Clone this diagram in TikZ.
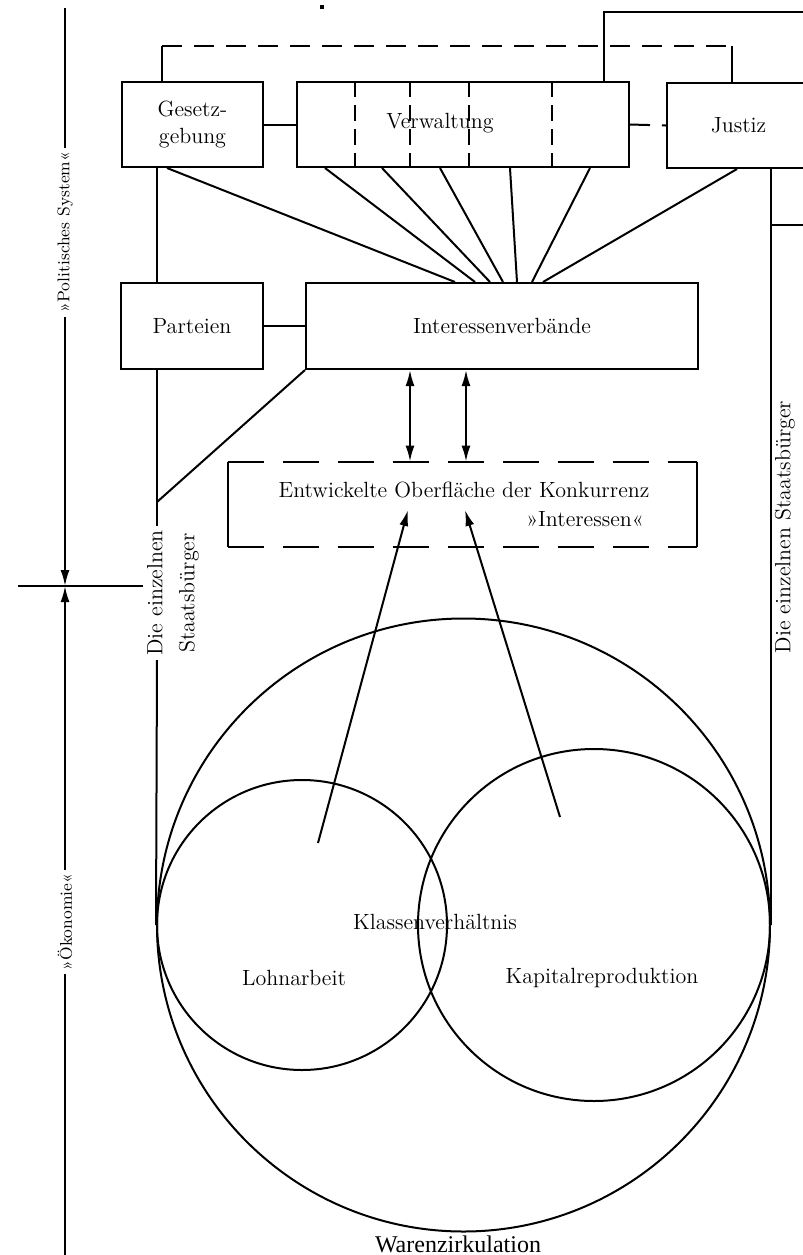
\documentclass[tikz,border=0pt]{standalone}
\usepackage{fontspec}
\newfontfamily\timesfont{Liberation Serif}
\usetikzlibrary{positioning,arrows.meta,calc}

\begin{document}
\begin{tikzpicture}[x=0.5pt, y=-0.5pt,
		% Box styles
		box/.style={rectangle, draw=black, line width=1pt, inner sep=0pt, align=center,
			font=\fontsize{11}{13.5}\selectfont},
		ring/.style={circle, draw=black, line width=1pt, inner sep=0pt},
		% Line styles
		link/.style={line width=1pt},
		dashlink/.style={line width=1pt, dash pattern=on 10pt off 6pt},
		boxdash/.style={line width=1pt, dash pattern=on 18pt off 9.5pt},
		divider/.style={line width=1pt, dash pattern=on 8pt off 4pt},
		arrow/.style={line width=1pt, -{Latex[length=8pt,width=4.5pt]}},
		dblarrow/.style={line width=1pt, {Latex[length=8pt,width=4.5pt]}-{Latex[length=8pt,width=4.5pt]}},
		% Text styles
		lbl/.style={font=\fontsize{11}{13.5}\selectfont, inner sep=1pt},
		sidelbl/.style={font=\fontsize{11}{16}\selectfont, rotate=90, inner sep=2pt, align=center},
		axislbl/.style={font=\fontsize{8.5}{10}\selectfont, rotate=90, inner sep=2pt}
		]
		
		\useasboundingbox (0,0) rectangle (803,1255);
		\clip (0,0) rectangle (803,1255);
		
		% Political system boxes
		\node[box, minimum width=70.5pt, minimum height=42.5pt] (gesetz) at (192.5,124.5) {Gesetz-\\gebung};
		\node[box, minimum width=166pt, minimum height=42.5pt] (verw) at (463,124.5) {};
		\node[lbl] (verwtext) at (440,123) {Verwaltung};
		\node[box, minimum width=71.5pt, minimum height=42.5pt] (justiz) at (738.5,125.5) {Justiz};
		
		\node[box, minimum width=71pt, minimum height=43pt] (parteien) at (192,326) {Parteien};
		\node[box, minimum width=196pt, minimum height=43pt] (verband) at (502,326) {Interessenverbände};
		
		% Surface of competition
		\node[minimum width=234.5pt, minimum height=42.5pt, inner sep=0pt] (ober) at (462.5,504.5) {};
		\node[lbl] (obertext) at (464,490) {Entwickelte Oberfläche der Konkurrenz};
		\node[lbl] (interessen) at (585,519) {»Interessen«};
		
		% Economy circles
		\node[ring, minimum size=306.5pt] (waren) at (463.5,925) {};
		\node[ring, minimum size=145pt] (lohn) at (302,925) {};
		\node[ring, minimum size=176pt] (kapital) at (594,925) {};
		\node[lbl] (klasse) at (435,922) {Klassenverhältnis};
		\node[lbl] (lohntext) at (294,978) {Lohnarbeit};
		\node[lbl] (kapitaltext) at (602,978) {Kapitalreproduktion};
		\node[font=\timesfont\fontsize{12}{14}\selectfont, inner sep=1pt] (warentext) at (458,1244) {Warenzirkulation};
		
		% Citizens
		\coordinate (bj) at (157,502);
		\node[sidelbl] (buerger) at (173,593) {Die einzelnen\\Staatsbürger};
		\node[sidelbl] (buergerr) at (785,527) {Die einzelnen Staatsbürger};
		
		% Side axis
		\coordinate (axtop) at (65,8);
		\coordinate (axmid) at (65,586);
		\coordinate (axbot) at (65,1260);
		\coordinate (crossl) at (18,586);
		\coordinate (crossr) at (143,586);
		\node[axislbl] (polsys) at (65,232) {»Politisches System«};
		\node[axislbl] (oekon) at (65,922) {»Ökonomie«};
		
		% Speck
		\node[fill=black, minimum size=2pt, inner sep=0pt] (speck) at (322,7) {};
		
		% Dividers in Verwaltung
		\foreach \x in {355,410,469,552}
		\draw[divider] (\x,0 |- verw.north) -- (\x,0 |- verw.south);
		
		% Top connections
		\coordinate (tl) at (162,46);
		\coordinate (tr) at (732,46);
		\coordinate (topr) at (604,12);
		\coordinate (offr) at (820,12);
		\draw[link] (gesetz.north -| tl) -- (tl);
		\draw[dashlink] (tl) -- (tr);
		\draw[link] (tr) -- (justiz.north -| tr);
		\draw[link] (verw.north -| topr) -- (topr) -- (offr);
		
		\draw[link] (gesetz.east) -- (verw.west);
		\draw[dashlink] (verw.east) -- (justiz.west);
		
		% Lines down to Interessenverbaende
		\draw[link] (167,0 |- gesetz.south) -- (455,0 |- verband.north);
		\foreach \a/\b in {325/475,382/490,440/503,510/517,590/532}
		\draw[link] (\a,0 |- verw.south) -- (\b,0 |- verband.north);
		\draw[link] (737,0 |- justiz.south) -- (543,0 |- verband.north);
		
		% Left citizen line
		\draw[link] (gesetz.south -| bj) -- (parteien.north -| bj);
		\draw[link] (parteien) -- (verband);
		\draw[link] (parteien.south -| bj) -- (bj);
		\draw[link] (verband.south west) -- (bj);
		\draw[link] (bj) -- (buerger.east -| bj);
		\draw[link] (buerger.west -| bj) -- (waren.west);
		
		% Right citizen line
		\coordinate (stubr) at (820,225);
		\draw[link] (justiz.south -| waren.east) -- (waren.east);
		\draw[link] (waren.east |- stubr) -- (stubr);
		
		% Dashed box
		\draw[link] (ober.north west) -- (ober.south west);
		\draw[link] (ober.north east) -- (ober.south east);
		\draw[boxdash] (ober.north west) -- (ober.north east);
		\draw[boxdash] (ober.south west) -- (ober.south east);
		
		% Arrows
		\draw[dblarrow] (verband.south -| 410,0) -- (ober.north -| 410,0);
		\draw[dblarrow] (verband.south -| 466,0) -- (ober.north -| 466,0);
		\coordinate (lohnarr) at (318,843);
		\coordinate (kaparr) at (560,817);
		\coordinate (obl) at (408,510);
		\coordinate (obr) at (465,510);
		\draw[arrow] (lohnarr) -- (obl);
		\draw[arrow] (kaparr) -- (obr);
		
		% Axis
		\draw[link] (axtop) -- (polsys.east);
		\draw[arrow] (polsys.west) -- (axmid);
		\draw[arrow] (oekon.east) -- (axmid);
		\draw[link] (oekon.west) -- (axbot);
		\draw[link] (crossl) -- (crossr);
		
	\end{tikzpicture}
\end{document}
